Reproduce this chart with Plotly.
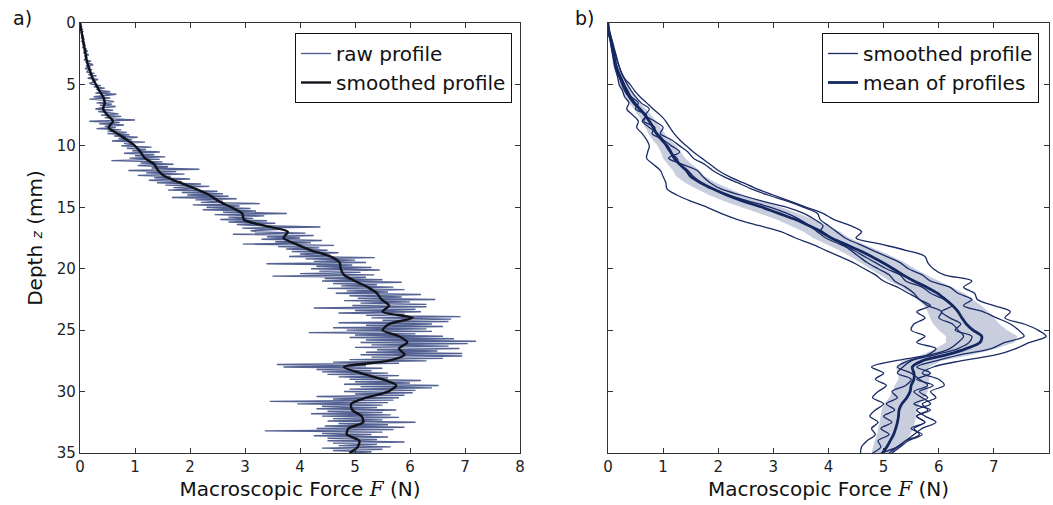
import plotly.graph_objects as go

# ---------------- Panel a) data ----------------
raw_depth = [round(i * 0.1, 1) for i in range(351)]  # mm
raw_force = [
    0.00, 0.02, 0.00, 0.03, 0.01, 0.04, 0.01, 0.05, 0.02, 0.04,
    0.03, 0.07, 0.02, 0.08, 0.05, 0.03, 0.09, 0.04, 0.10, 0.06,
    0.05, 0.12, 0.07, 0.14, 0.06, 0.11, 0.16, 0.08, 0.13, 0.09,
    0.08, 0.20, 0.10, 0.17, 0.24, 0.11, 0.19, 0.09, 0.22, 0.14,
    0.12, 0.26, 0.15, 0.30, 0.20, 0.14, 0.33, 0.22, 0.28, 0.17,
    0.22, 0.38, 0.25, 0.45, 0.30, 0.36, 0.55, 0.28, 0.66, 0.40,
    0.25, 0.55, 0.17, 0.48, 0.62, 0.30, 0.58, 0.36, 0.65, 0.40,
    0.28, 0.60, 0.33, 0.52, 0.70, 0.38, 0.75, 0.45, 0.62, 1.00,
    0.17, 0.72, 0.35, 0.80, 0.45, 0.65, 0.30, 0.75, 0.50, 0.85,
    0.50, 0.90, 0.62, 1.05, 0.70, 0.95, 0.58, 1.18, 0.80, 1.00,
    0.75, 1.30, 0.85, 1.20, 0.95, 1.45, 0.80, 1.35, 1.00, 1.55,
    0.90, 1.45, 0.57, 1.50, 1.10, 1.70, 1.05, 1.60, 1.30, 2.17,
    0.88, 1.75, 1.20, 1.90, 1.05, 1.65, 1.35, 2.00, 1.25, 1.85,
    1.40, 2.20, 1.55, 2.35, 1.70, 2.10, 1.60, 2.50, 1.85, 2.60,
    1.95, 2.70, 1.67, 2.85, 2.10, 2.60, 2.20, 3.27, 2.05, 2.90,
    2.30, 3.10, 2.23, 3.20, 2.60, 3.76, 2.45, 3.35, 2.70, 3.15,
    2.55, 3.40, 2.70, 3.55, 2.85, 3.30, 4.37, 2.95, 3.65, 3.10,
    3.20, 4.10, 2.78, 4.25, 3.40, 4.00, 3.30, 4.40, 3.55, 4.20,
    2.96, 4.62, 3.60, 4.35, 3.75, 4.50, 3.85, 4.70, 4.00, 4.55,
    3.80, 5.36, 4.10, 5.00, 4.25, 5.20, 3.39, 4.95, 4.30, 5.30,
    4.20, 5.45, 4.35, 5.10, 4.00, 5.35, 3.50, 5.20, 4.45, 5.50,
    4.40, 5.85, 4.60, 5.40, 4.75, 5.70, 4.50, 5.90, 4.85, 5.60,
    4.65, 6.20, 4.90, 5.85, 5.05, 6.46, 4.80, 6.00, 5.10, 6.30,
    4.95, 6.30, 4.25, 6.10, 5.00, 6.20, 4.70, 5.90, 5.20, 6.92,
    5.30, 6.75, 5.50, 6.70, 4.70, 6.40, 5.20, 6.60, 4.60, 6.30,
    4.85, 6.40, 4.16, 6.10, 5.00, 6.60, 4.90, 6.80, 5.20, 7.20,
    5.10, 7.05, 5.30, 6.70, 5.00, 6.90, 5.40, 6.50, 5.20, 6.95,
    5.10, 6.95, 5.30, 6.60, 4.90, 6.30, 4.60, 5.80, 3.58, 5.20,
    3.70, 5.50, 4.30, 5.30, 4.40, 5.60, 4.50, 5.80, 4.70, 5.60,
    4.90, 6.20, 5.00, 6.00, 4.80, 6.52, 5.10, 6.40, 4.90, 6.10,
    4.80, 6.05, 5.00, 5.90, 4.30, 5.80, 4.60, 5.70, 3.45, 5.60,
    3.95, 5.50, 4.40, 5.40, 4.30, 5.75, 4.50, 5.50, 4.20, 5.65,
    4.40, 5.80, 4.60, 5.50, 4.50, 6.10, 4.70, 5.60, 4.45, 5.90,
    4.30, 5.70, 3.36, 5.50, 4.40, 5.30, 4.25, 5.60, 4.50, 5.40,
    4.50, 5.90, 4.60, 5.40, 4.70, 5.65, 4.40, 5.50, 4.60, 5.30,
    4.90,
]

smooth_depth = [round(i * 0.5, 1) for i in range(71)]
smooth_force = [
    0.00, 0.02, 0.04, 0.06, 0.08, 0.10, 0.12, 0.15, 0.19, 0.23,
    0.29, 0.35, 0.42, 0.45, 0.42, 0.50, 0.60, 0.52, 0.68, 0.85,
    1.00, 1.10, 1.18, 1.35, 1.42, 1.55, 1.82, 2.10, 2.35, 2.52,
    2.75, 2.95, 2.98, 3.35, 3.78, 3.70, 3.93, 4.20, 4.55, 4.72,
    4.74, 4.80, 5.00, 5.23, 5.40, 5.48, 5.62, 5.50, 6.05, 5.62,
    5.50, 5.80, 5.95, 5.80, 5.90, 5.60, 4.80, 5.10, 5.50, 5.75,
    5.60, 5.20, 4.93, 4.95, 5.12, 5.15, 4.88, 4.85, 5.08, 5.05,
    4.90,
]

# ---------------- Panel b) data ----------------
prof_depth = [round(i * 0.5, 1) for i in range(71)]
profile_a = [
    0.00, 0.02, 0.05, 0.08, 0.11, 0.14, 0.17, 0.20, 0.24, 0.30,
    0.40, 0.48, 0.58, 0.70, 0.82, 0.95, 1.05, 1.12, 1.20, 1.30,
    1.42, 1.55, 1.70, 1.85, 2.00, 2.20, 2.45, 2.70, 3.00, 3.30,
    3.60, 3.90, 4.10, 4.40, 4.60, 4.50, 4.95, 5.40, 5.75, 5.80,
    5.90, 6.10, 6.60, 6.45, 6.65, 6.70, 7.00, 7.30, 7.20, 7.55,
    7.80, 7.95, 7.65, 7.40, 7.05, 6.40, 5.90, 5.70, 6.00, 6.10,
    5.85, 5.95, 5.70, 5.80, 5.60, 5.75, 5.55, 5.65, 5.40, 5.25,
    5.10,
]
profile_b = [
    0.00, 0.01, 0.04, 0.07, 0.10, 0.13, 0.16, 0.20, 0.24, 0.29,
    0.35, 0.42, 0.50, 0.60, 0.75, 0.68, 0.85, 1.00, 0.95, 1.15,
    1.30, 1.45, 1.55, 1.75, 1.90, 2.10, 2.35, 2.60, 2.90, 3.25,
    3.55, 3.80, 3.85, 4.00, 4.15, 4.30, 4.55, 4.80, 5.05, 5.30,
    5.45, 5.70, 5.85, 6.20, 6.35, 6.60, 6.45, 6.80, 7.05, 7.30,
    7.45, 7.55, 7.20, 6.95, 6.40, 5.95, 5.60, 5.85, 5.60, 5.90,
    5.65, 5.80, 5.55, 5.85, 5.60, 5.75, 5.50, 5.70, 5.45, 5.30,
    5.15,
]
profile_c = [
    0.00, 0.00, 0.02, 0.05, 0.07, 0.09, 0.11, 0.13, 0.16, 0.21,
    0.25, 0.30, 0.37, 0.45, 0.56, 0.70, 0.62, 0.75, 0.90, 1.00,
    1.05, 1.12, 1.25, 1.30, 1.45, 1.55, 1.70, 1.90, 2.20, 2.55,
    2.95, 3.25, 3.48, 3.65, 3.80, 3.95, 4.20, 4.45, 4.65, 4.85,
    5.05, 5.30, 5.40, 5.70, 5.85, 6.10, 6.25, 6.05, 6.20, 6.40,
    6.30, 6.60, 6.55, 6.35, 5.95, 5.50, 5.35, 5.25, 5.50, 5.40,
    5.15, 5.25, 5.05, 5.20, 5.00, 5.15, 4.95, 5.10, 4.90, 4.95,
    4.80,
]
profile_d = [
    0.00, 0.01, 0.03, 0.06, 0.09, 0.11, 0.13, 0.16, 0.20, 0.25,
    0.30, 0.36, 0.42, 0.55, 0.50, 0.70, 0.65, 0.85, 0.80, 1.00,
    1.15, 1.30, 1.10, 1.35, 1.62, 1.72, 1.85, 2.05, 2.40, 2.80,
    3.25, 3.55, 3.75, 3.90, 3.85, 4.05, 4.25, 4.40, 4.55, 4.70,
    4.90, 5.10, 5.20, 5.40, 5.55, 5.65, 5.85, 5.60, 5.75, 5.55,
    5.50, 5.75, 5.60, 5.95, 5.80, 5.45, 5.25, 5.50, 5.65, 5.80,
    5.55, 5.70, 5.85, 5.60, 5.75, 5.95, 5.70, 5.55, 5.40, 5.25,
    4.95,
]
profile_e = [
    0.00, 0.01, 0.02, 0.04, 0.06, 0.08, 0.10, 0.12, 0.15, 0.18,
    0.20, 0.26, 0.30, 0.38, 0.34, 0.45, 0.55, 0.52, 0.62, 0.70,
    0.75, 0.72, 0.70, 0.82, 0.95, 1.00, 1.05, 1.07, 1.25, 1.50,
    1.80, 2.05, 2.35, 2.75, 3.15, 3.40, 3.70, 3.95, 4.20, 4.45,
    4.65, 4.85, 5.00, 5.25, 5.45, 5.65, 5.80, 6.05, 6.00, 6.25,
    6.35, 6.45, 6.35, 6.20, 5.85, 5.20, 4.78, 5.00, 4.85, 5.05,
    4.90, 4.80, 5.00, 4.85, 4.75, 4.90, 4.78, 4.85, 4.70, 4.60,
    4.58,
]
mean_force = [
    0.00, 0.01, 0.03, 0.06, 0.08, 0.10, 0.12, 0.14, 0.18, 0.23,
    0.28, 0.33, 0.40, 0.48, 0.58, 0.67, 0.75, 0.82, 0.88, 0.97,
    1.07, 1.14, 1.20, 1.30, 1.42, 1.50, 1.68, 1.90, 2.15, 2.45,
    2.80, 3.10, 3.40, 3.65, 3.88, 4.05, 4.30, 4.55, 4.78, 4.98,
    5.17, 5.35, 5.55, 5.78, 5.98, 6.12, 6.25, 6.35, 6.42, 6.50,
    6.62, 6.78, 6.75, 6.50, 6.15, 5.70, 5.52, 5.55, 5.55, 5.50,
    5.48, 5.42, 5.33, 5.28, 5.27, 5.25, 5.22, 5.18, 5.12, 5.06,
    4.98,
]
band_lower = [
    0.00, 0.00, 0.01, 0.03, 0.05, 0.06, 0.08, 0.09, 0.13, 0.17,
    0.21, 0.25, 0.31, 0.38, 0.47, 0.55, 0.62, 0.68, 0.73, 0.81,
    0.90, 0.96, 1.00, 1.08, 1.18, 1.24, 1.40, 1.60, 1.83, 2.11,
    2.45, 2.75, 3.06, 3.32, 3.55, 3.72, 3.96, 4.19, 4.40, 4.58,
    4.77, 4.93, 5.11, 5.32, 5.50, 5.62, 5.73, 5.80, 5.84, 5.90,
    6.00, 6.13, 6.13, 5.95, 5.70, 5.35, 5.22, 5.27, 5.27, 5.20,
    5.16, 5.10, 5.01, 4.96, 4.95, 4.93, 4.90, 4.88, 4.84, 4.81,
    4.78,
]
band_upper = [
    0.00, 0.02, 0.05, 0.09, 0.11, 0.14, 0.16, 0.19, 0.23, 0.29,
    0.35, 0.41, 0.49, 0.58, 0.69, 0.79, 0.88, 0.96, 1.03, 1.13,
    1.24, 1.32, 1.40, 1.52, 1.66, 1.76, 1.96, 2.20, 2.47, 2.79,
    3.15, 3.45, 3.74, 3.98, 4.21, 4.38, 4.64, 4.91, 5.16, 5.38,
    5.57, 5.77, 5.99, 6.24, 6.46, 6.62, 6.77, 6.90, 7.00, 7.10,
    7.24, 7.43, 7.37, 7.05, 6.60, 6.05, 5.82, 5.83, 5.83, 5.80,
    5.80, 5.74, 5.65, 5.60, 5.59, 5.57, 5.54, 5.48, 5.40, 5.31,
    5.18,
]
profiles = [profile_a, profile_b, profile_c, profile_d, profile_e]

x_ticks = [0, 1, 2, 3, 4, 5, 6, 7, 8]
y_ticks = [0, 5, 10, 15, 20, 25, 30, 35]

# ---------------- Figure ----------------
W, H = 1053, 505
FONT = "DejaVu Sans"
RAW_COLOR = "rgba(60,76,132,0.88)"
NAVY = "#1a2b66"

fig = go.Figure()

fig.add_trace(go.Scatter(
    x=raw_force, y=raw_depth, mode="lines", name="raw profile",
    line=dict(color=RAW_COLOR, width=1.4), xaxis="x", yaxis="y", legend="legend"))
fig.add_trace(go.Scatter(
    x=smooth_force, y=smooth_depth, mode="lines", name="smoothed profile",
    line=dict(color="#111318", width=2.4, shape="spline", smoothing=0.7),
    xaxis="x", yaxis="y", legend="legend"))

# band (mean +/- spread)
fig.add_trace(go.Scatter(
    x=band_lower + band_upper[::-1], y=prof_depth + prof_depth[::-1],
    mode="lines", fill="toself", fillcolor="rgba(165,173,202,0.6)",
    line=dict(width=0), showlegend=False, hoverinfo="skip",
    xaxis="x2", yaxis="y2"))

for k, p in enumerate(profiles):
    fig.add_trace(go.Scatter(
        x=p, y=prof_depth, mode="lines", name="smoothed profile",
        line=dict(color=NAVY, width=1.3, shape="spline", smoothing=0.9),
        showlegend=(k == 0), xaxis="x2", yaxis="y2", legend="legend2"))

fig.add_trace(go.Scatter(
    x=mean_force, y=prof_depth, mode="lines", name="mean of profiles",
    line=dict(color="#14275f", width=2.8, shape="spline", smoothing=0.8),
    xaxis="x2", yaxis="y2", legend="legend2"))

y0 = 1 - 453 / H
y1 = 1 - 23 / H

axis_common = dict(
    showline=True, linecolor="#333333", linewidth=1.2, mirror="ticks",
    ticks="inside", ticklen=5, tickwidth=1, tickcolor="#333333",
    showgrid=False, zeroline=False,
    tickfont=dict(family=FONT, size=15, color="#222222"),
)

title_x = dict(text="Macroscopic Force <i><span style='font-family:DejaVu Serif'>F</span></i> (N)",
               font=dict(family=FONT, size=20, color="#111111"), standoff=6)

legend_common = dict(bgcolor="white", bordercolor="#111111", borderwidth=1,
                     font=dict(family=FONT, size=20, color="#111111"),
                     tracegroupgap=0, xanchor="right", yanchor="top")

fig.update_layout(
    width=W, height=H,
    margin=dict(l=0, r=0, t=0, b=0),
    paper_bgcolor="white", plot_bgcolor="white",
    font=dict(family=FONT, color="#111111"),
    xaxis=dict(domain=[80 / W, 520 / W], range=[0, 8], tickvals=x_ticks,
               anchor="y", title=title_x, automargin=False, **axis_common),
    yaxis=dict(domain=[y0, y1], range=[35, 0], tickvals=y_ticks,
               anchor="x", automargin=False,
               title=dict(text="Depth <i><span style='font-size:14px'>z</span></i> (mm)",
                          font=dict(family=FONT, size=20, color="#111111"), standoff=8),
               **axis_common),
    xaxis2=dict(domain=[608 / W, 1049 / W], range=[0, 8], tickvals=x_ticks,
                anchor="y2", title=title_x, automargin=False, **axis_common),
    yaxis2=dict(domain=[y0, y1], range=[35, 0], tickvals=y_ticks,
                anchor="x2", showticklabels=False, automargin=False, **axis_common),
    legend=dict(x=512 / W, y=1 - 33 / H, **legend_common),
    legend2=dict(x=1039 / W, y=1 - 33 / H, **legend_common),
    annotations=[
        dict(text="a)", x=11 / W, y=1 - 18 / H, xref="paper", yref="paper",
             xanchor="left", yanchor="middle", showarrow=False,
             font=dict(family=FONT, size=19, color="#111111")),
        dict(text="b)", x=573 / W, y=1 - 18 / H, xref="paper", yref="paper",
             xanchor="left", yanchor="middle", showarrow=False,
             font=dict(family=FONT, size=19, color="#111111")),
    ],
    showlegend=True,
)

fig.write_html("out.html")
